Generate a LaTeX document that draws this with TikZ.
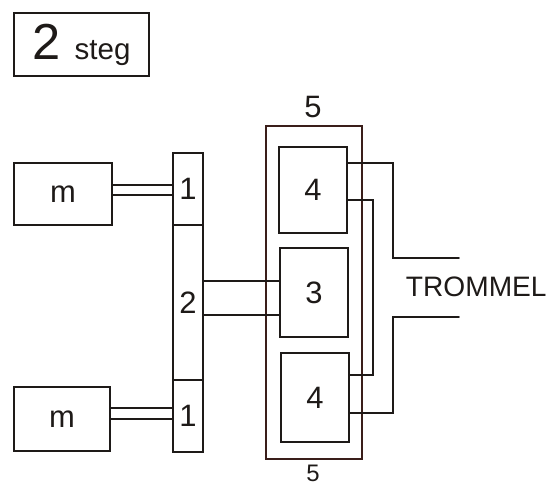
\documentclass[tikz,border=0pt]{standalone}
\usepackage{fontspec}
\setmainfont{Liberation Sans}
\definecolor{ink}{HTML}{1E1A18}
\definecolor{rust}{HTML}{3A1E1A}
\begin{document}
\begin{tikzpicture}[x=0.025cm,y=-0.025cm,every node/.style={text=ink,font=\fontsize{22}{26}\selectfont},
 box/.style={draw=ink,line width=1.2pt,inner sep=0pt},
 wire/.style={ink,line width=1.2pt,line cap=round}]
\useasboundingbox (0,0) rectangle (557,486);
\node[box,minimum width=3.375cm,minimum height=1.575cm] (title) at (81.5,44.5) {\fontsize{36}{40}\selectfont 2 \fontsize{21}{24}\selectfont steg};
\node[box,minimum width=2.45cm,minimum height=1.55cm] (motorA) at (63,194) {m};
\node[box,minimum width=2.4cm,minimum height=1.6cm] (motorB) at (62,419) {m};
\node[box,minimum width=.75cm,minimum height=1.8cm] (clutchA) at (188,189) {1};
\node[box,minimum width=.75cm,minimum height=3.875cm] (gear) at (188,302.5) {2};
\node[box,minimum width=.75cm,minimum height=1.8cm] (clutchB) at (188,416) {1};
\node[box,draw=rust,minimum width=2.4cm,minimum height=8.325cm] (carrier) at (314,292.5) {};
\node[box,minimum width=1.7cm,minimum height=2.15cm] (ringA) at (313,190) {4};
\node[box,minimum width=1.7cm,minimum height=2.225cm] (sun) at (314,292.5) {3};
\node[box,minimum width=1.7cm,minimum height=2.225cm] (ringB) at (315,397.5) {4};
\node (labTop) at (313,107) {5};
\node[font=\fontsize{17}{20}\selectfont] (labBot) at (313,473) {5};
\node[anchor=west,font=\fontsize{20}{24}\selectfont] (drum) at (401,287) {TROMMEL};
\coordinate (drumA) at (459,258);
\coordinate (drumB) at (459,317);
\draw[wire] (motorA.east |- 0,185) -- (clutchA.west |- 0,185);
\draw[wire] (motorA.east |- 0,195) -- (clutchA.west |- 0,195);
\draw[wire] (motorB.east |- 0,408) -- (clutchB.west |- 0,408);
\draw[wire] (motorB.east |- 0,419) -- (clutchB.west |- 0,419);
\draw[wire] (gear.east |- 0,281) -- (sun.west |- 0,281);
\draw[wire] (gear.east |- 0,315) -- (sun.west |- 0,315);
\draw[wire] (ringA.east |- 0,163) -- (393,163) |- (drumA);
\draw[wire] (ringA.east |- 0,200) -- (373,200) |- (ringB.east |- 0,375);
\draw[wire] (ringB.east |- 0,413) -- (393,413) |- (drumB);
\end{tikzpicture}
\end{document}
